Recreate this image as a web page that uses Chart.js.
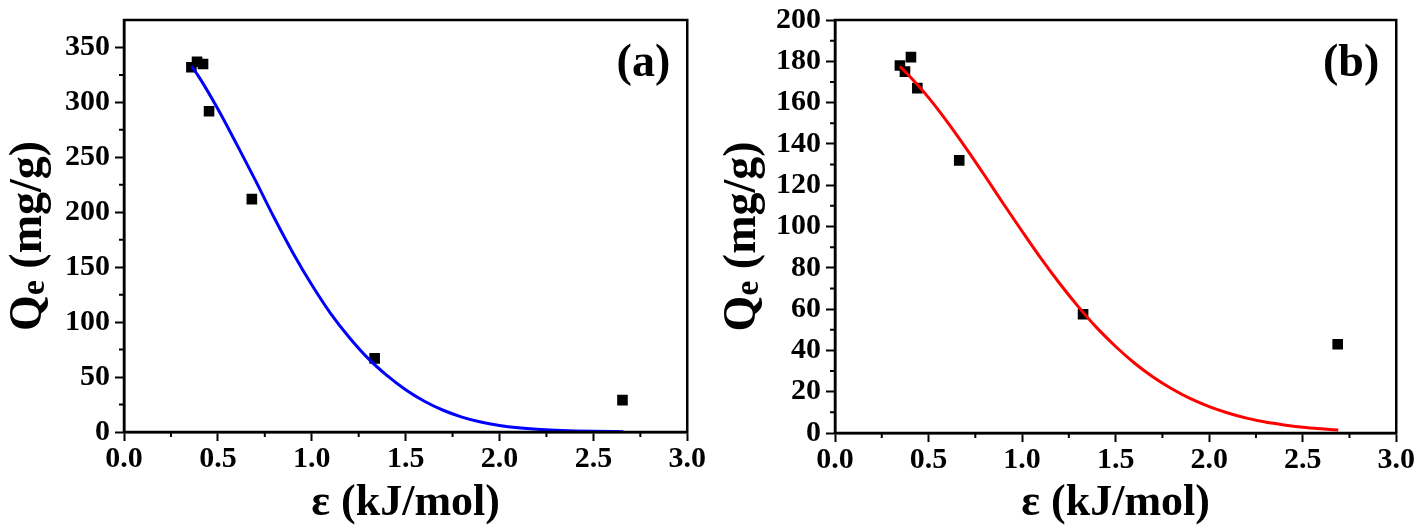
<!DOCTYPE html>
<html>
<head>
<meta charset="utf-8">
<script src="https://cdn.jsdelivr.net/npm/chart.js@4.4.0/dist/chart.umd.min.js"></script>
<style>
  body { margin: 0; background: #fff; }
  .panel { position: absolute; top: 0; width: 709px; height: 528px; }
</style>
</head>
<body>
<div class="panel" style="left:0"><canvas id="chart-a"></canvas></div>
<div class="panel" style="left:709px"><canvas id="chart-b"></canvas></div>
<script>
  // Données (a)
  const epsA = [0.359, 0.389, 0.421, 0.453, 0.681, 1.335, 2.655];
  const qeA = [332, 337, 335, 292, 212, 67, 29];
  const fitEpsA = [0.36, 0.4, 0.5, 0.6, 0.7, 0.8, 0.9, 1.0, 1.1, 1.2, 1.3, 1.4, 1.5, 1.6, 1.7, 1.8, 1.9, 2.0, 2.1, 2.2, 2.3, 2.4, 2.5, 2.66];
  const fitQeA = [333, 323, 294, 262, 229, 195, 163, 134, 108, 86, 67, 51.5, 38.5, 28, 19.8, 13.6, 9.1, 6, 3.9, 2.5, 1.6, 1, 0.6, 0.3];

  // Données (b)
  const epsB = [0.347, 0.374, 0.406, 0.44, 0.664, 1.326, 2.687];
  const qeB = [178, 175, 182, 167, 132, 57.5, 43];
  const fitEpsB = [0.347, 0.4, 0.5, 0.6, 0.7, 0.8, 0.9, 1.0, 1.1, 1.2, 1.3, 1.4, 1.5, 1.6, 1.7, 1.8, 1.9, 2.0, 2.1, 2.2, 2.3, 2.4, 2.5, 2.6, 2.69];
  const fitQeB = [177.5, 172.6, 162.4, 150.7, 138, 124.7, 111, 97.7, 84.7, 72.5, 61.2, 50.9, 41.9, 33.9, 27.1, 21.4, 16.6, 12.8, 9.7, 7.2, 5.3, 3.9, 2.8, 2.0, 1.4];

  const xTicks = { min: 0, max: 3, step: 0.5 };
  const yTicksA = { min: 0, max: 375, step: 50 };
  const yTicksB = { min: 0, max: 200, step: 20 };

  const serif = "'Liberation Serif', 'Times New Roman', serif";

  // Cadre, petites graduations, titre Y et étiquette du panneau
  const decor = {
    id: 'decor',
    afterDraw(chart, args, opts) {
      const { ctx, chartArea, scales } = chart;
      ctx.save();
      ctx.strokeStyle = '#000';
      ctx.lineWidth = 2;
      ctx.beginPath();
      for (let v = opts.xStep / 2; v < scales.x.max; v += opts.xStep) {
        const px = scales.x.getPixelForValue(v);
        ctx.moveTo(px, chartArea.bottom);
        ctx.lineTo(px, chartArea.bottom + 5);
      }
      for (let v = opts.yStep / 2; v < scales.y.max; v += opts.yStep) {
        const py = scales.y.getPixelForValue(v);
        ctx.moveTo(chartArea.left, py);
        ctx.lineTo(chartArea.left - 5, py);
      }
      ctx.stroke();
      ctx.lineWidth = 2.5;
      ctx.strokeRect(chartArea.left, chartArea.top, chartArea.right - chartArea.left, chartArea.bottom - chartArea.top);

      ctx.fillStyle = '#000';
      ctx.font = 'bold 46px ' + serif;
      ctx.textAlign = 'right';
      ctx.textBaseline = 'middle';
      ctx.fillText(opts.label, chartArea.right - 17, chartArea.top + 44);

      // titre Y : Qe (mg/g) avec e plus petit
      const big = 'bold 46px ' + serif;
      const small = 'bold 34px ' + serif;
      ctx.textAlign = 'left';
      ctx.textBaseline = 'alphabetic';
      ctx.font = big;
      const wQ = ctx.measureText('Q').width;
      const wR = ctx.measureText(' (mg/g)').width;
      ctx.font = small;
      const wE = ctx.measureText('e').width;
      const total = wQ + wE + wR;
      ctx.translate(opts.titleX, (chartArea.top + chartArea.bottom) / 2 + 10);
      ctx.rotate(-Math.PI / 2);
      let x0 = -total / 2;
      ctx.font = big;
      ctx.fillText('Q', x0, 0);
      ctx.font = small;
      ctx.fillText('e', x0 + wQ, 3);
      ctx.font = big;
      ctx.fillText(' (mg/g)', x0 + wQ + wE, 0);
      ctx.restore();
    }
  };

  function makeChart(id, eps, qe, fitEps, fitQe, color, yT, yWidth, padLeft, xHeight, label, titleX) {
    const ctx = document.getElementById(id);
    return new Chart(ctx, {
      type: 'scatter',
      data: {
        datasets: [
          {
            label: 'fit',
            data: fitEps.map((e, i) => ({ x: e, y: fitQe[i] })),
            showLine: true,
            borderColor: color,
            borderWidth: 3,
            pointRadius: 0,
            cubicInterpolationMode: 'monotone'
          },
          {
            label: 'exp',
            data: eps.map((e, i) => ({ x: e, y: qe[i] })),
            pointStyle: 'rect',
            pointRadius: 7.5,
            backgroundColor: '#000',
            borderWidth: 0
          }
        ]
      },
      options: {
        animation: false,
        responsive: true,
        maintainAspectRatio: false,
        layout: { padding: { left: padLeft, right: 20, top: 14, bottom: 0 } },
        plugins: {
          legend: { display: false },
          tooltip: { enabled: false },
          decor: { xStep: xTicks.step, yStep: yT.step, label: label, titleX: titleX }
        },
        scales: {
          x: {
            type: 'linear',
            min: xTicks.min,
            max: xTicks.max,
            border: { display: true, color: '#000', width: 2.5 },
            grid: { drawOnChartArea: false, tickLength: 9, tickWidth: 2, tickColor: '#000' },
            ticks: {
              stepSize: xTicks.step,
              includeBounds: false,
              color: '#000',
              padding: 3,
              font: { family: serif, size: 30, weight: 'bold', lineHeight: 1 },
              callback: v => v.toFixed(1)
            },
            title: {
              display: true,
              text: 'ε (kJ/mol)',
              color: '#000',
              padding: { top: 0, bottom: 2 },
              font: { family: serif, size: 44, weight: 'bold', lineHeight: 1 }
            },
            afterFit: s => { s.height = xHeight; }
          },
          y: {
            min: yT.min,
            max: yT.max,
            border: { display: true, color: '#000', width: 2.5 },
            grid: { drawOnChartArea: false, tickLength: 9, tickWidth: 2, tickColor: '#000' },
            ticks: {
              stepSize: yT.step,
              includeBounds: false,
              color: '#000',
              padding: 5,
              font: { family: serif, size: 30, weight: 'bold', lineHeight: 1 }
            },
            afterFit: s => { s.width = yWidth; }
          }
        }
      },
      plugins: [decor]
    });
  }

  makeChart('chart-a', epsA, qeA, fitEpsA, fitQeA, '#0000ff', yTicksA, 124, 0, 96, '(a)', 41);
  makeChart('chart-b', epsB, qeB, fitEpsB, fitQeB, '#ff0000', yTicksB, 119, 7, 95, '(b)', 46);
</script>
</body>
</html>
